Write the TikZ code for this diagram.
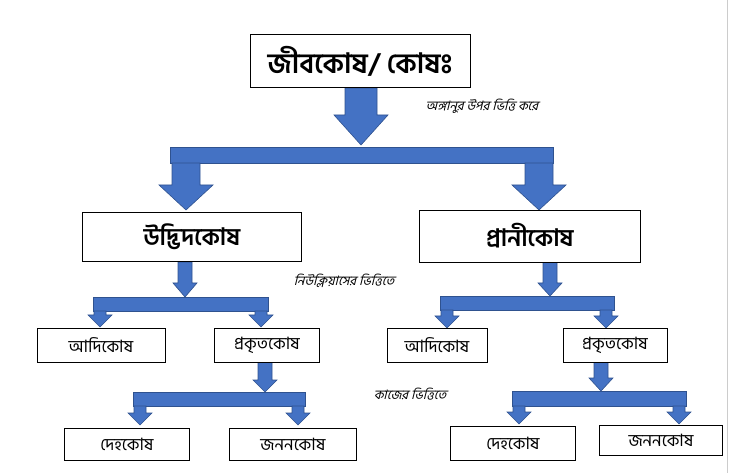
\documentclass[tikz,border=0pt]{standalone}
\usepackage{fontspec}
\setmainfont{Hind Siliguri}[Script=Bengali]
\newfontfamily\slantbn{Hind Siliguri}[Script=Bengali,FakeSlant=0.25]
\definecolor{arrowblue}{HTML}{4472C4}
\definecolor{arrowedge}{HTML}{2F528F}
\tikzset{
  cellbox/.style={draw, thick, fill=white, inner sep=0pt, font=\fontsize{17}{17}\selectfont},
  bigbox/.style={cellbox, font=\bfseries\fontsize{24}{24}\selectfont},
  basislabel/.style={font=\slantbn\fontsize{13}{13}\selectfont},
  blockfill/.style={fill=arrowblue, draw=arrowedge, line width=0.6pt}
}
% down arrow: x, top, bottom, half shaft, half head, head length
\newcommand{\blockarrow}[6]{%
  \filldraw[blockfill] (#1-#4,#2) -- (#1+#4,#2) -- (#1+#4,#3-#6) -- (#1+#5,#3-#6)
    -- (#1,#3) -- (#1-#5,#3-#6) -- (#1-#4,#3-#6) -- cycle;}
\newcommand{\blockbar}[4]{\filldraw[blockfill] (#1,#3) rectangle (#2,#4);}
\begin{document}
\begin{tikzpicture}[x=1pt,y=-1pt]
  \useasboundingbox (0,0) rectangle (729,473);
  \draw[gray!40] (727,0) -- (727,473);
  % arrows
  \blockarrow{361}{88}{145}{16}{27}{30}
  \blockbar{170}{553}{147}{163}
  \blockarrow{186}{163}{210}{14}{27}{25}
  \blockarrow{539}{163}{210}{14}{27}{25}
  % left branch
  \blockarrow{185}{262}{297}{7}{12}{14}
  \blockbar{93}{268}{297}{311}
  \blockarrow{100}{311}{327}{6}{12}{12}
  \blockarrow{261}{311}{327}{6}{12}{12}
  \blockarrow{265}{362}{392}{7}{12}{12}
  \blockbar{133}{305}{392}{406}
  \blockarrow{140}{406}{425}{6}{12}{12}
  \blockarrow{298}{406}{425}{6}{12}{12}
  % right branch
  \blockarrow{550}{262}{296}{7}{12}{13}
  \blockbar{440}{614}{296}{310}
  \blockarrow{447}{310}{328}{6}{12}{12}
  \blockarrow{606}{310}{328}{6}{12}{12}
  \blockarrow{601}{362}{391}{7}{12}{13}
  \blockbar{512}{686}{391}{406}
  \blockarrow{519}{406}{424}{6}{12}{12}
  \blockarrow{679}{406}{424}{6}{12}{12}
  % boxes
  \node[bigbox, minimum width=220pt, minimum height=53pt, font=\bfseries\fontsize{28}{28}\selectfont] (cell) at (360,61) {জীবকোষ/ কোষঃ};
  \node[bigbox, minimum width=219pt, minimum height=49pt] (plant) at (192,237) {উদ্ভিদকোষ};
  \node[bigbox, minimum width=221pt, minimum height=52pt] (animal) at (530,236) {প্রানীকোষ};
  \node[cellbox, minimum width=128pt, minimum height=34pt] (pproka) at (101,345) {আদিকোষ};
  \node[cellbox, minimum width=105pt, minimum height=34pt] (peuka) at (267,345) {প্রকৃতকোষ};
  \node[cellbox, minimum width=100pt, minimum height=34pt] (aproka) at (437,345) {আদিকোষ};
  \node[cellbox, minimum width=104pt, minimum height=34pt] (aeuka) at (615,345) {প্রকৃতকোষ};
  \node[cellbox, minimum width=125pt, minimum height=32pt] (psoma) at (127,444) {দেহকোষ};
  \node[cellbox, minimum width=127pt, minimum height=32pt] (pgerm) at (293,444) {জননকোষ};
  \node[cellbox, minimum width=125pt, minimum height=34pt] (asoma) at (513,443) {দেহকোষ};
  \node[cellbox, minimum width=123pt, minimum height=30pt] (agerm) at (661,440) {জননকোষ};
  % basis labels
  \node[basislabel] (organelle) at (482,106) {অঙ্গানুর উপর ভিত্তি করে};
  \node[basislabel] (nucleus) at (344,281) {নিউক্লিয়াসের ভিত্তিতে};
  \node[basislabel] (work) at (410,394) {কাজের ভিত্তিতে};
\end{tikzpicture}
\end{document}
